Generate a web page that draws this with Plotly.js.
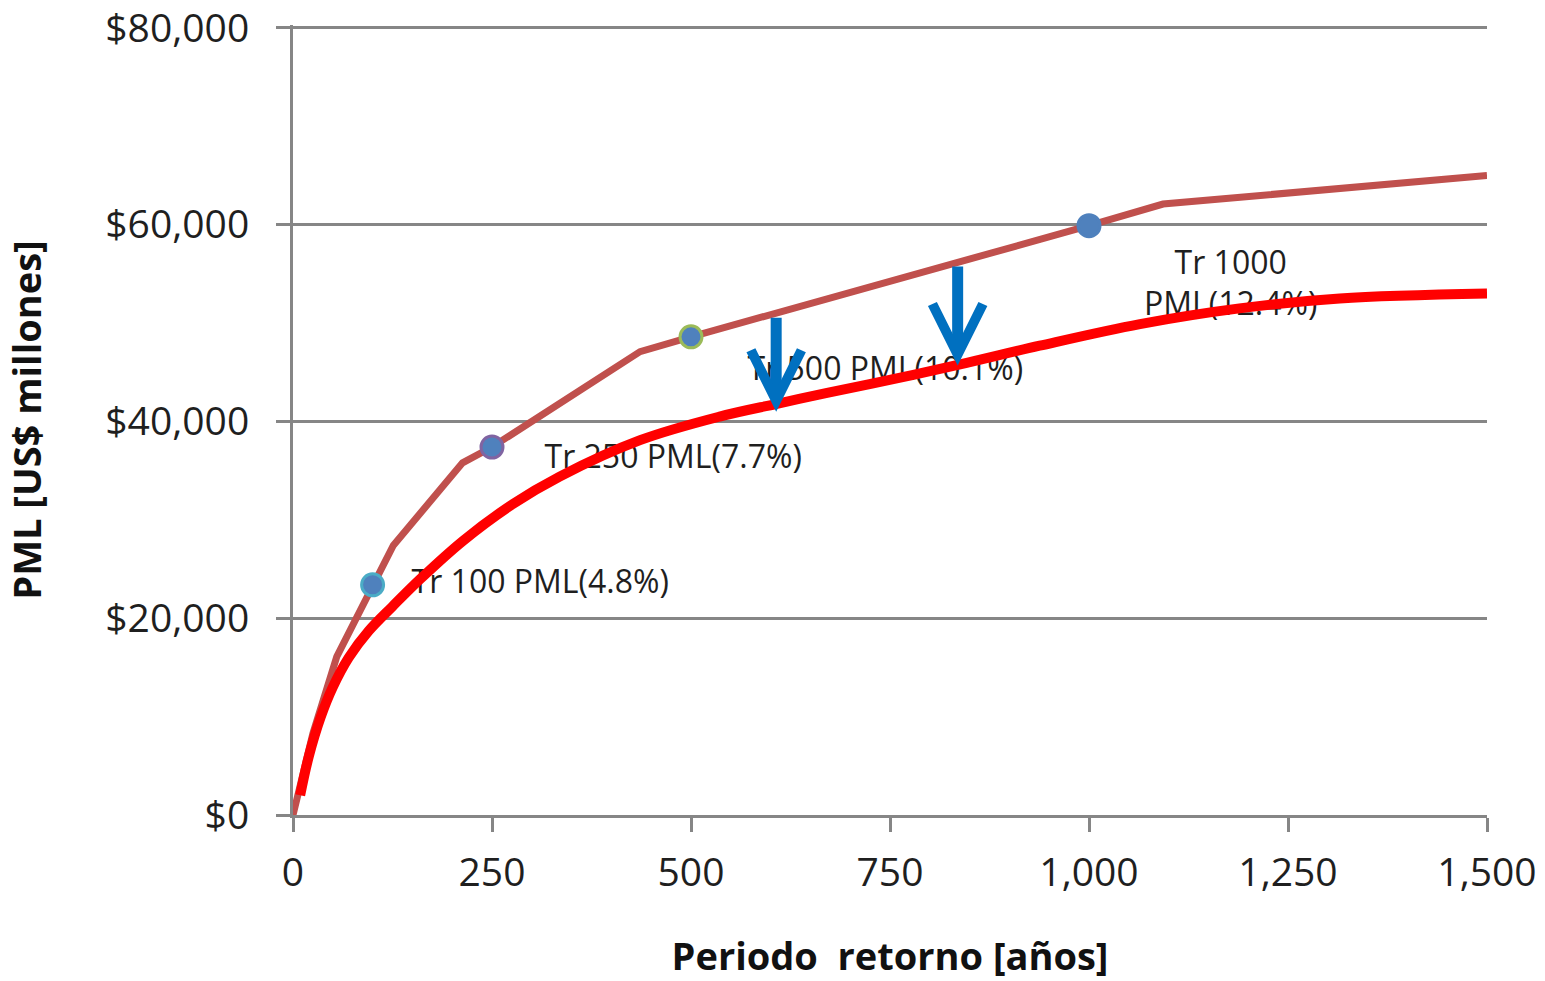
<!DOCTYPE html>
<html><head><meta charset="utf-8">
<script src="https://cdn.plot.ly/plotly-3.0.1.min.js"></script>
<style>html,body{margin:0;padding:0;background:#fff}#chart{width:1545px;height:981px}</style>
</head><body><div id="chart"></div>
<script>
const pmlX = [0, 25, 55, 84, 100, 126, 213, 250, 436, 500, 1000, 1093, 1500];
const pmlY = [0, 8300, 16100, 20800, 23400, 27400, 35800, 37400, 47100, 48600, 59900, 62100, 65000];
const fitX = [9, 20, 35, 50, 70, 95, 125, 160, 214, 276, 335, 436, 536, 608, 671, 754, 838, 938, 1064, 1189, 1315, 1500];
const fitY = [2000, 6000, 10000, 13000, 16000, 18700, 21200, 24000, 27900, 31600, 34400, 38100, 40500, 41800, 42900, 44300, 45800, 47700, 49900, 51500, 52500, 53000];
const markX = [100, 250, 500, 1000];
const markY = [23400, 37400, 48600, 59900];
const markOutline = ['#4BACC6', '#8064A2', '#9BBB59', '#4F81BD'];
const labelText = ['Tr 100 PML(4.8%)', 'Tr 250 PML(7.7%)', 'Tr 500 PML(10.1%)', 'Tr 1000<br>PML(12.4%)'];
const labelX = [149, 316, 571, 1178];
const labelY = [23400, 36100, 45000, 53700];
const labelPos = ['middle right', 'middle right', 'middle right', 'middle center'];
const arrowX = [607, 835];
const arrowTop = [50700, 55900];
const arrowTip = [41000, 45700];
const xTicks = [0, 250, 500, 750, 1000, 1250, 1500];
const xTickText = ['0', '250', '500', '750', '1,000', '1,250', '1,500'];
const yTicks = [0, 20000, 40000, 60000, 80000];
const yTickText = ['$0', '$20,000', '$40,000', '$60,000', '$80,000'];

const gray = '#868686';
const FONT = 'Open Sans, sans-serif';

const traces = [
  {x: labelX, y: labelY, mode: 'text', text: labelText, textposition: labelPos,
   textfont: {family: FONT, size: 32, color: '#1f1f1f'}, hoverinfo: 'skip', cliponaxis: false},
  {x: pmlX, y: pmlY, mode: 'lines', line: {color: '#C0504D', width: 7}, hoverinfo: 'skip'},
  {x: fitX, y: fitY, mode: 'lines', line: {color: '#FF0000', width: 10, shape: 'spline', smoothing: 1}, hoverinfo: 'skip'},
  {x: markX, y: markY, mode: 'markers', marker: {size: 22, color: '#4F81BD', line: {color: markOutline, width: 3}}, hoverinfo: 'skip', cliponaxis: false}
];

const annotations = arrowX.map((ax, i) => ({
  x: ax, y: arrowTip[i], ax: ax, ay: arrowTop[i], xref: 'x', yref: 'y', axref: 'x', ayref: 'y',
  text: '', showarrow: true, arrowhead: 5, arrowsize: 0.9, arrowwidth: 11, arrowcolor: '#0070C0', standoff: 0
}));

const layout = {
  width: 1545, height: 981,
  margin: {l: 293, r: 58, t: 25, b: 166},
  paper_bgcolor: '#fff', plot_bgcolor: '#fff',
  showlegend: false,
  xaxis: {
    range: [0, 1500], tickmode: 'array', tickvals: xTicks, ticktext: xTickText,
    ticks: 'outside', ticklen: 14, tickwidth: 3, tickcolor: gray,
    showline: true, linecolor: gray, linewidth: 3, showgrid: false, zeroline: false,
    tickfont: {family: FONT, size: 39, color: '#1f1f1f'}, ticklabelstandoff: 7, ticklabeloverflow: 'allow',
    title: {text: 'Periodo\u00a0\u00a0retorno [años]', standoff: 49,
            font: {family: FONT, size: 38, color: '#111', weight: 'bold'}}
  },
  yaxis: {
    range: [0, 80300], tickmode: 'array', tickvals: yTicks, ticktext: yTickText,
    ticks: 'outside', ticklen: 14, tickwidth: 3, tickcolor: gray,
    showline: true, linecolor: gray, linewidth: 3, showgrid: true, gridcolor: gray, gridwidth: 3, zeroline: false,
    tickfont: {family: FONT, size: 39, color: '#1f1f1f'}, ticklabelstandoff: 19, ticklabeloverflow: 'allow',
    title: {text: 'PML [US$ millones]', standoff: 57,
            font: {family: FONT, size: 38, color: '#111', weight: 'bold'}}
  },
  annotations: annotations
};

Plotly.newPlot('chart', traces, layout, {displayModeBar: false, staticPlot: true});
</script>
</body></html>
